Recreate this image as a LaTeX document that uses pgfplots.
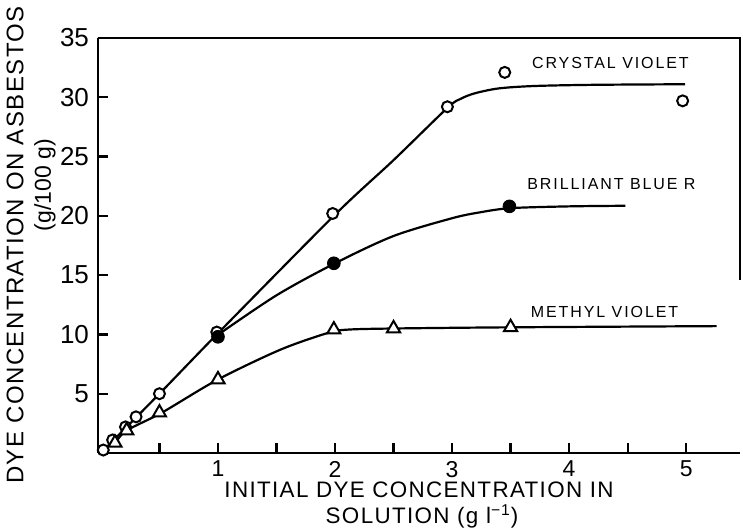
\documentclass[border=0pt]{standalone}
\usepackage{fontspec}
\setmainfont{Liberation Sans}
\newfontfamily\lsfont[LetterSpace=12]{Liberation Sans}
\newfontfamily\lbfont[LetterSpace=6]{Liberation Sans}
\usepackage{pgfplots}
\pgfplotsset{compat=1.18}
\begin{document}
\begin{tikzpicture}
\begin{axis}[
  scale only axis, width=321pt, height=207.5pt,
  xmin=-0.025, xmax=5.46, ymin=0, ymax=35,
  clip=false,
  axis x line*=bottom, axis y line*=left,
  axis line style={line width=1.3pt},
  tick align=inside,
  major tick length=5pt, minor tick length=5pt,
  tick style={line width=1.1pt, black},
  xtick={1,2,3,4,5}, minor xtick={0.5,1.5,2.5,3.5,4.5},
  ytick={5,10,15,20,25,30,35},
  /pgf/number format/assume math mode=true,
  xticklabel style={font=\fontsize{11.5}{12}\selectfont, yshift=-0.5pt},
  yticklabel style={font=\fontsize{13}{13}\selectfont, xshift=-1pt},
]
% curves
\addplot[black, line width=1.1pt, smooth] coordinates {
 (0.0,0.0) (0.5,5.0) (1.0,10.1) (2.0,20.1) (2.5,24.7) (2.96,29.1) (3.08,29.9) (3.2,30.35) (3.4,30.75) (3.7,30.95) (4.2,31.05) (4.99,31.1)};
\addplot[black, line width=1.1pt, smooth] coordinates {
 (0.99,9.9) (1.5,13.3) (2.0,16.0) (2.5,18.3) (3.0,19.8) (3.24,20.3) (3.5,20.65) (4.0,20.8) (4.48,20.85)};
\addplot[black, line width=1.1pt, smooth] coordinates {
 (0.03,0.4) (0.12,0.9) (0.22,1.9) (0.52,3.4) (1.0,6.2) (1.53,8.7) (1.93,10.1) (2.1,10.4) (2.5,10.5) (3.5,10.6) (5.26,10.7)};
% markers
\addplot[only marks, mark=*, mark size=2.75pt, mark options={fill=white, draw=black, line width=1pt}] coordinates {
 (0.02,0.25) (0.10,1.1) (0.21,2.2) (0.30,3.05) (0.50,5.0) (0.99,10.2) (1.98,20.2) (2.96,29.2) (3.45,32.1) (4.97,29.7)};
\addplot[only marks, mark=*, mark size=3.2pt, mark options={fill=black, draw=black}] coordinates {
 (1.0,9.8) (1.99,16.0) (3.49,20.8)};
\addplot[only marks, mark=triangle*, mark size=3.8pt, mark options={fill=white, draw=black, line width=1pt}] coordinates {
 (0.12,0.85) (0.22,1.9) (0.50,3.4) (1.0,6.2) (1.99,10.4) (2.5,10.5) (3.5,10.6)};
% partial frame
\draw[line width=1.3pt] (axis cs:-0.025,35) -- (axis cs:5.46,35) -- (axis cs:5.46,14.6);
% series labels
\node[anchor=west, font=\lsfont\fontsize{8}{8}\selectfont, inner sep=0pt] at (axis cs:3.68,32.9) {CRYSTAL VIOLET};
\node[anchor=west, font=\lsfont\fontsize{8}{8}\selectfont, inner sep=0pt] at (axis cs:3.64,22.7) {BRILLIANT BLUE R};
\node[anchor=west, font=\lsfont\fontsize{8}{8}\selectfont, inner sep=0pt] at (axis cs:3.67,11.9) {METHYL VIOLET};
\coordinate (O) at (rel axis cs:0,0);
\end{axis}
\node[rotate=90, font=\lbfont\fontsize{12}{12}\selectfont, inner sep=0pt] at ([shift={(-41.5pt,104pt)}]O) {DYE CONCENTRATION ON ASBESTOS};
\node[rotate=90, font=\fontsize{11.5}{11.5}\selectfont, inner sep=0pt] at ([shift={(-26.5pt,134pt)}]O) {(g/100 g)};
\node[font=\lbfont\fontsize{11.2}{11.2}\selectfont, inner sep=0pt] at ([shift={(160.5pt,-18.5pt)}]O) {INITIAL DYE CONCENTRATION IN};
\node[font=\lbfont\fontsize{11.2}{11.2}\selectfont, inner sep=0pt] at ([shift={(162pt,-31.5pt)}]O) {SOLUTION (g l\textsuperscript{−1})};
\pgfresetboundingbox
\path[use as bounding box] ([shift={(-49pt,-38pt)}]O) rectangle ([shift={(322.5pt,226.5pt)}]O);
\end{tikzpicture}
\end{document}
